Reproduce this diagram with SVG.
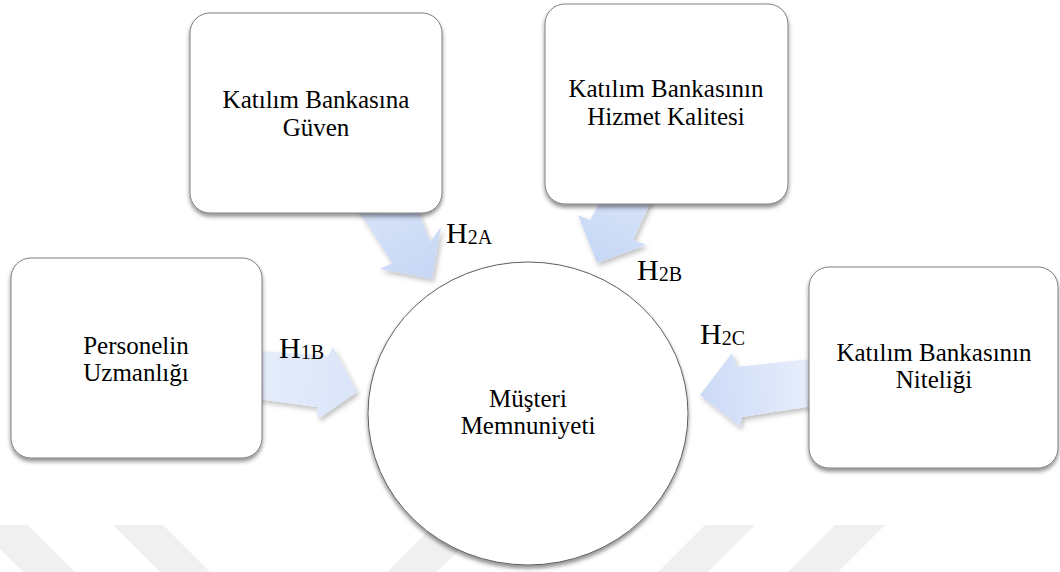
<svg xmlns="http://www.w3.org/2000/svg" width="1060" height="572" viewBox="0 0 1060 572">
  <style>
    .box { fill: #ffffff; stroke: #7f7f7f; stroke-width: 1; filter: url(#shadow); }
    .hub { fill: #ffffff; stroke: #5f5f5f; stroke-width: 1; filter: url(#shadow); }
    .txt { font-family: "Liberation Serif", "Times New Roman", serif; font-size: 25px; fill: #000000; text-anchor: middle; }
    .lbl { font-family: "Liberation Serif", "Times New Roman", serif; font-size: 30px; fill: #000000; }
    .sub { font-size: 20px; }
    .stripe { fill: #f0f0f0; }
    .arrow { filter: url(#ashadow); }
  </style>
  <defs>
    <filter id="shadow" x="-10%" y="-10%" width="120%" height="125%">
      <feDropShadow dx="0" dy="3" stdDeviation="2" flood-color="#000000" flood-opacity="0.45"/>
    </filter>
    <filter id="ashadow" x="-20%" y="-20%" width="150%" height="150%">
      <feDropShadow dx="2" dy="3" stdDeviation="2.5" flood-color="#000000" flood-opacity="0.25"/>
    </filter>
    <linearGradient id="g1" gradientUnits="userSpaceOnUse" x1="390" y1="200" x2="432" y2="278">
      <stop offset="0" stop-color="#d6e2f8"/>
      <stop offset="1" stop-color="#c6d7f5"/>
    </linearGradient>
    <linearGradient id="g2" gradientUnits="userSpaceOnUse" x1="625" y1="195" x2="597" y2="263">
      <stop offset="0" stop-color="#d6e2f8"/>
      <stop offset="1" stop-color="#c6d7f5"/>
    </linearGradient>
    <linearGradient id="g3" gradientUnits="userSpaceOnUse" x1="250" y1="375" x2="357" y2="392">
      <stop offset="0" stop-color="#e6edfb"/>
      <stop offset="1" stop-color="#dbe5f9"/>
    </linearGradient>
    <linearGradient id="g4" gradientUnits="userSpaceOnUse" x1="820" y1="380" x2="700" y2="395">
      <stop offset="0" stop-color="#e9effc"/>
      <stop offset="1" stop-color="#ccdaf7"/>
    </linearGradient>
  </defs>

  <!-- faint diagonal bands along the bottom edge -->
  <g id="bands">
    <polygon class="stripe" points="-24,525 28,525 75,572 23,572"/>
    <polygon class="stripe" points="113,525 163,525 210,572 160,572"/>
    <polygon class="stripe" points="434,525 484,525 437,572 387,572"/>
    <polygon class="stripe" points="705,525 755,525 708,572 658,572"/>
    <polygon class="stripe" points="835,525 885,525 838,572 788,572"/>
  </g>

  <!-- block arrows pointing into the hub -->
  <g id="connectors">
    <polygon class="arrow" fill="url(#g1)" points="352,200 414,200 430,242 441,227 432,279 380,269 392,263"/>
    <polygon class="arrow" fill="url(#g2)" points="604,195 654,195 633,240 646,245 597,263 578,215 590,220"/>
    <polygon class="arrow" fill="url(#g3)" points="250,350 328,356 333,347 357,392 318,419 317,407 250,398"/>
    <polygon class="arrow" fill="url(#g4)" points="820,358 737,367 732,353 700,395 740,427 742,417 820,405"/>
  </g>

  <g id="node-guven">
    <rect class="box" x="190" y="13" width="252" height="200" rx="20" ry="20"/>
    <text class="txt" x="316" y="108">Katılım Bankasına</text>
    <text class="txt" x="316" y="136">Güven</text>
  </g>

  <g id="node-hizmet">
    <rect class="box" x="545" y="4" width="243" height="200" rx="20" ry="20"/>
    <text class="txt" x="666" y="97">Katılım Bankasının</text>
    <text class="txt" x="666" y="125">Hizmet Kalitesi</text>
  </g>

  <g id="node-personel">
    <rect class="box" x="11" y="258" width="251" height="200" rx="20" ry="20"/>
    <text class="txt" x="136" y="354">Personelin</text>
    <text class="txt" x="136" y="381">Uzmanlığı</text>
  </g>

  <g id="node-nitelik">
    <rect class="box" x="809" y="267" width="249" height="201" rx="20" ry="20"/>
    <text class="txt" x="934" y="361">Katılım Bankasının</text>
    <text class="txt" x="934" y="388">Niteliği</text>
  </g>

  <g id="node-memnuniyet">
    <ellipse class="hub" cx="528" cy="413.5" rx="160" ry="151.5"/>
    <text class="txt" x="528" y="407">Müşteri</text>
    <text class="txt" x="528" y="434">Memnuniyeti</text>
  </g>

  <!-- hypothesis labels -->
  <g id="labels">
    <text class="lbl" x="446" y="243">H<tspan class="sub" dy="1">2A</tspan></text>
    <text class="lbl" x="637" y="280">H<tspan class="sub" dy="1">2B</tspan></text>
    <text class="lbl" x="279" y="358">H<tspan class="sub" dy="1">1B</tspan></text>
    <text class="lbl" x="700" y="344">H<tspan class="sub" dy="1">2C</tspan></text>
  </g>
</svg>
